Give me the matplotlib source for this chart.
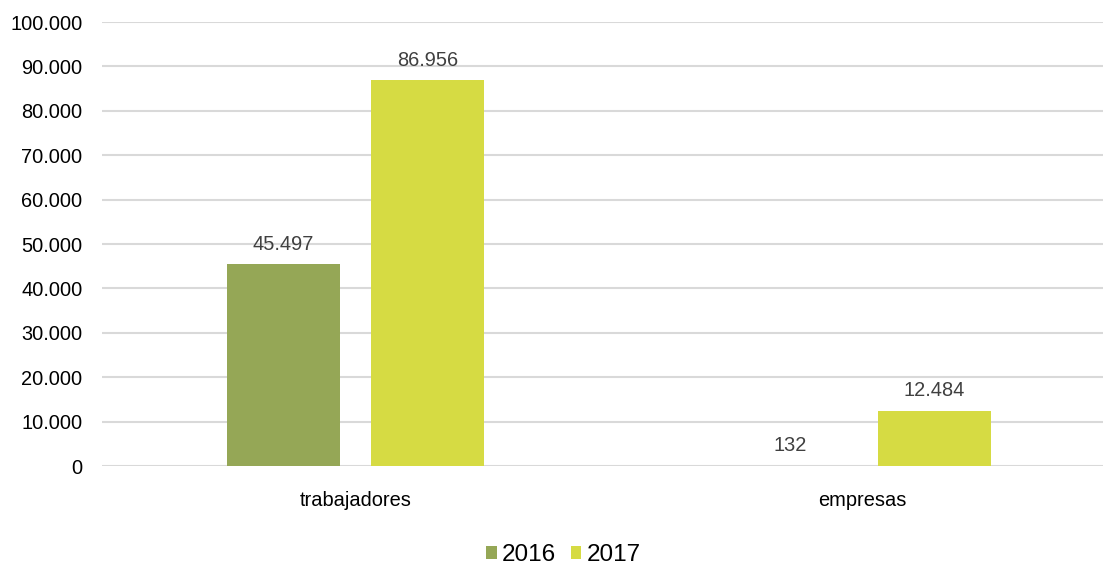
import matplotlib
matplotlib.use("Agg")
import matplotlib.pyplot as plt
import numpy as np
from matplotlib.ticker import FuncFormatter

plt.rcParams["font.family"] = ["Liberation Sans", "DejaVu Sans"]

categories = ["trabajadores", "empresas"]
years = ["2016", "2017"]
values_2016 = [45497, 132]
values_2017 = [86956, 12484]
colors = ["#95A756", "#D6DB43"]


def es_thousands(v, _pos=None):
    return f"{int(round(v)):,}".replace(",", ".")


fig = plt.figure(figsize=(11.03, 5.65), dpi=100)
ax = fig.add_axes([0.0925, 0.175, 0.919, 0.786])

x = np.arange(len(categories))
width = 0.223
offset = 0.142
for vals, year, color, shift in zip(
    [values_2016, values_2017], years, colors, [-offset, offset]
):
    bars = ax.bar(x + shift, vals, width=width, color=color, label=year, zorder=3)
    for rect, v in zip(bars, vals):
        ax.text(
            rect.get_x() + rect.get_width() / 2,
            v + 2300,
            es_thousands(v),
            ha="center",
            va="bottom",
            fontsize=14.4,
            color="#404040",
        )

ax.set_xlim(-0.5, 1.5)
ax.set_ylim(0, 100000)
ax.set_yticks(np.arange(0, 100001, 10000))
ax.yaxis.set_major_formatter(FuncFormatter(es_thousands))
ax.set_xticks(x)
ax.set_xticklabels(categories)
ax.grid(axis="y", color="#d9d9d9", linewidth=1.5, zorder=0)
ax.tick_params(axis="both", length=0, labelsize=14.4, colors="#000000")
ax.tick_params(axis="y", pad=14)
ax.tick_params(axis="x", pad=18)
for spine in ax.spines.values():
    spine.set_visible(False)

ax.legend(
    loc="center",
    bbox_to_anchor=(0.455, -0.2),
    ncol=2,
    frameon=False,
    fontsize=17.5,
    handlelength=0.45,
    handleheight=0.45,
    handletextpad=0.2,
    columnspacing=0.6,
)

fig.savefig("out.png", dpi=100)
